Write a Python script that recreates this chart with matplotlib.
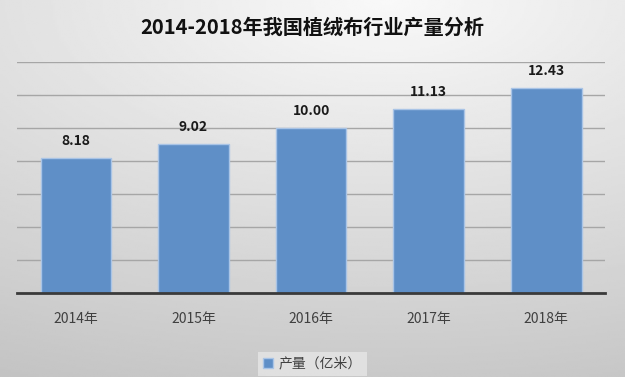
import numpy as np
import matplotlib.pyplot as plt

plt.rcParams['font.family'] = ['Noto Sans CJK SC', 'DejaVu Sans']

years = ['2014年', '2015年', '2016年', '2017年', '2018年']
output = [8.18, 9.02, 10.00, 11.13, 12.43]
labels = ['8.18', '9.02', '10.00', '11.13', '12.43']
title = '2014-2018年我国植绒布行业产量分析'
series_name = '产量（亿米）'

fig = plt.figure(figsize=(6.25, 3.77), dpi=100)

# gray radial background, lighter near the top
bg = fig.add_axes([0, 0, 1, 1], zorder=-10)
xx, yy = np.meshgrid(np.linspace(0, 1, 300), np.linspace(0, 1, 200))
r = np.sqrt((xx - 0.62) ** 2 + ((yy - 1.0) / 0.8) ** 2)
shade = np.clip(0.975 - 0.15 * r, 0, 1)
bg.imshow(shade, cmap='gray', vmin=0, vmax=1, origin='lower',
          extent=[0, 1, 0, 1], aspect='auto')
bg.set_axis_off()

ax = fig.add_axes([0.0272, 0.223, 0.941, 0.613])
ax.patch.set_alpha(0)
x = np.arange(len(years))
bars = ax.bar(x, output, width=0.6, color='#5f8fc7', edgecolor='#a9c4e6',
              linewidth=1, zorder=3)
ax.bar_label(bars, labels=labels, padding=7, fontsize=10, fontweight='bold',
             color='#1a1a1a')

ax.set_ylim(0, 14)
ax.set_xlim(-0.5, len(years) - 0.5)
ax.set_yticks(np.arange(0, 15, 2))
ax.yaxis.grid(True, color='#a6a6a6', linewidth=1)
ax.tick_params(axis='y', left=False, labelleft=False)
ax.tick_params(axis='x', length=0, pad=14, labelsize=10, labelcolor='#404040')
ax.set_xticks(x)
ax.set_xticklabels(years)
for s in ['top', 'right', 'left']:
    ax.spines[s].set_visible(False)
ax.spines['bottom'].set_color('#3a3a3a')
ax.spines['bottom'].set_linewidth(2)
ax.spines['bottom'].set_zorder(4)

fig.text(0.5, 0.925, title, ha='center', va='center', fontsize=14.5,
         fontweight='bold', color='#111111')

leg = fig.legend([bars[0]], [series_name], loc='center', bbox_to_anchor=(0.5, 0.035),
                 frameon=True, fontsize=10, handlelength=0.7, handleheight=0.7,
                 handletextpad=0.4, borderpad=0.35, fancybox=False)
leg.get_frame().set_facecolor('#e6e6e6')
leg.get_frame().set_edgecolor('none')
for t in leg.get_texts():
    t.set_color('#404040')

fig.savefig('out.png', dpi=100)
